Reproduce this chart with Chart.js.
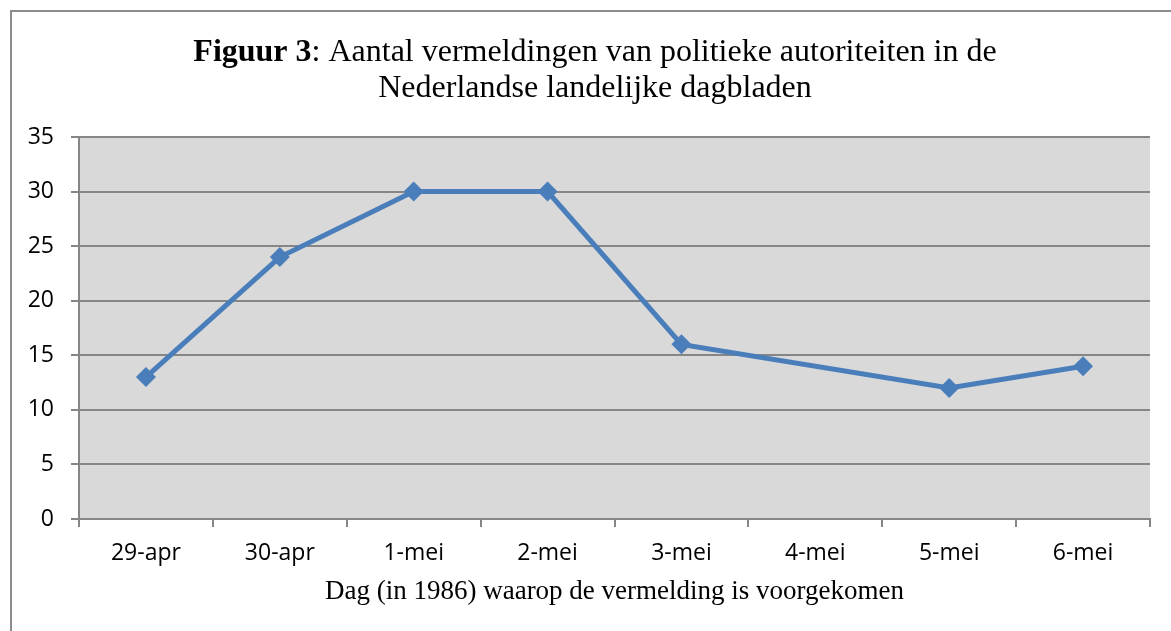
<!DOCTYPE html>
<html>
<head>
<meta charset="utf-8">
<script src="https://cdn.jsdelivr.net/npm/chart.js@4"></script>
<style>
  html, body { margin: 0; padding: 0; background: #fff; overflow: hidden; }
  #wrap { position: relative; width: 1171px; height: 631px; }
  #frame { position: absolute; left: 10px; top: 10px; width: 1200px; height: 700px;
           border: 2px solid #8c8c8c; box-sizing: border-box; }
  canvas { position: absolute; left: 0; top: 0; }
</style>
</head>
<body>
<div id="wrap">
  <div id="frame"></div>
  <canvas id="chart" width="1171" height="631"></canvas>
</div>
<script>
const days = ['29-apr', '30-apr', '1-mei', '2-mei', '3-mei', '4-mei', '5-mei', '6-mei'];
const mentions = [13, 24, 30, 30, 16, null, 12, 14];
const yTicks = [0, 5, 10, 15, 20, 25, 30, 35];

const titleLine1Bold = 'Figuur 3';
const titleLine1Rest = ': Aantal vermeldingen van politieke autoriteiten in de';
const titleLine2 = 'Nederlandse landelijke dagbladen';
const xTitle = 'Dag (in 1986) waarop de vermelding is voorgekomen';

const grey = '#868686';

// plot background + title
const decor = {
    id: 'decor',
    beforeDraw(chart) {
        const { ctx, chartArea: a } = chart;
        ctx.save();
        ctx.fillStyle = '#d9d9d9';
        ctx.fillRect(a.left, a.top, a.right - a.left, a.bottom - a.top);
        ctx.restore();
    },
    afterDraw(chart) {
        const ctx = chart.ctx;
        const cx = 595;
        ctx.save();
        ctx.fillStyle = '#000';
        ctx.textBaseline = 'alphabetic';
        ctx.font = 'bold 32px "Liberation Serif"';
        const wb = ctx.measureText(titleLine1Bold).width;
        ctx.font = '32px "Liberation Serif"';
        const wr = ctx.measureText(titleLine1Rest).width;
        let x = cx - (wb + wr) / 2;
        ctx.textAlign = 'left';
        ctx.font = 'bold 32px "Liberation Serif"';
        ctx.fillText(titleLine1Bold, x, 61);
        ctx.font = '32px "Liberation Serif"';
        ctx.fillText(titleLine1Rest, x + wb, 61);
        ctx.textAlign = 'center';
        ctx.fillText(titleLine2, cx, 97);
        ctx.restore();
    }
};

new Chart(document.getElementById('chart'), {
    type: 'line',
    data: {
        labels: days,
        datasets: [{
            data: mentions,
            borderColor: '#4a7ebb',
            backgroundColor: '#4a7ebb',
            borderWidth: 5,
            pointStyle: 'rectRot',
            pointRadius: 10,
            pointBorderWidth: 0,
            spanGaps: true,
            tension: 0
        }]
    },
    options: {
        responsive: false,
        animation: false,
        layout: { padding: { left: 0, top: 137, right: 21, bottom: 0 } },
        plugins: {
            legend: { display: false },
            tooltip: { enabled: false }
        },
        scales: {
            x: {
                offset: true,
                afterFit: s => { s.height = 112; },
                grid: { offset: true, drawOnChartArea: false, drawTicks: true, tickLength: 8, color: grey, lineWidth: 2 },
                border: { color: grey, width: 2 },
                ticks: { color: '#000', font: { family: '"Open Sans"', size: 23 }, padding: 13, maxRotation: 0 },
                title: { display: true, text: xTitle, color: '#000',
                         font: { family: '"Liberation Serif"', size: 27 }, padding: { top: 0, bottom: 23 } }
            },
            y: {
                min: 0,
                max: 35,
                afterFit: s => { s.width = 79; },
                afterBuildTicks: s => { s.ticks = yTicks.map(v => ({ value: v })); },
                grid: { color: grey, lineWidth: 2, tickLength: 8 },
                border: { color: grey, width: 2 },
                ticks: { color: '#000', font: { family: '"Open Sans"', size: 23 }, padding: 17 }
            }
        }
    },
    plugins: [decor]
});
</script>
</body>
</html>
